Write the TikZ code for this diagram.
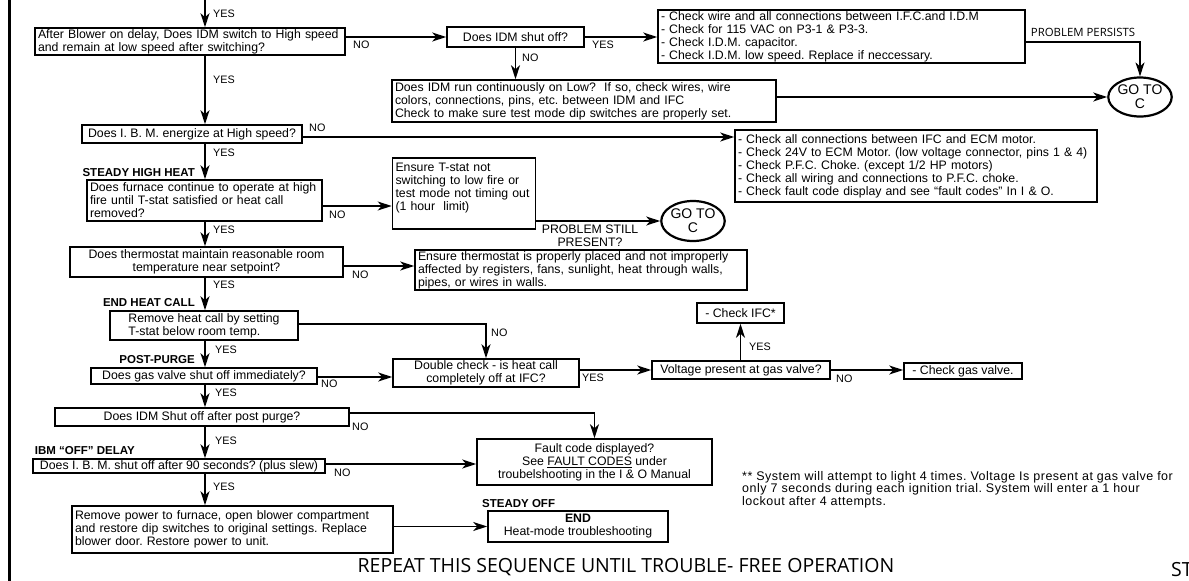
\documentclass[tikz,border=0pt]{standalone}
\usepackage{fontspec}
\setmainfont{Liberation Sans}
\newfontfamily\capsfont{Open Sans}
\newfontfamily\notefamily[LetterSpace=4]{Liberation Sans}
\usetikzlibrary{arrows.meta,shapes.geometric}
\frenchspacing
\newcommand\boxfont{\fontsize{12.3}{13}\selectfont}
\newcommand\tagfont{\fontsize{10.8}{12}\selectfont}
\newcommand\stagefont{\fontsize{11.5}{12}\selectfont\bfseries}
\newcommand\notefont{\notefamily\fontsize{12.5}{11.2}\selectfont}
\tikzset{
  qbox/.style={draw, line width=1.6pt, inner xsep=3pt, inner ysep=1pt, font=\boxfont, align=center},
  lbox/.style={qbox, align=left},
  tag/.style={font=\tagfont, inner sep=0pt, anchor=west},
  stage/.style={font=\stagefont, inner sep=0pt, anchor=base east},
  link/.style={line width=1.6pt},
  go/.style={link, -{Stealth[length=14pt,width=9pt,inset=4pt]}},
  goto/.style={draw, ellipse, line width=2.2pt, inner sep=0pt, font=\fontsize{14}{14}\selectfont, align=center}
}
\begin{document}
\begin{tikzpicture}[x=1pt,y=-1pt]
  \useasboundingbox (0,0) rectangle (1189,581);
  \draw[line width=3pt] (9,0) -- (9,581);
  \coordinate (trunk) at (205,0);
  \coordinate (entry) at (205,0);

  % main column
  \node[lbox, text width=304pt, minimum height=27pt] (q1) at (190,41.5)
    {After Blower on delay, Does IDM switch to High speed\\and remain at low speed after switching?};
  \node[qbox, minimum width=220pt, minimum height=18pt] (ibm) at (192,134)
    {Does I. B. M. energize at High speed?};
  \node[lbox, text width=229pt, minimum height=41pt] (furn) at (204.5,200.5)
    {Does furnace continue to operate at high\\fire until T-stat satisfied or heat call\\removed?};
  \node[qbox, minimum width=273pt, minimum height=30pt] (room) at (206.5,262)
    {Does thermostat maintain reasonable room\\temperature near setpoint?};
  \node[lbox, minimum width=188pt, minimum height=29pt] (heat) at (204,325.5)
    {Remove heat call by setting\\T-stat below room temp.};
  \node[qbox, minimum width=226pt, minimum height=16pt] (gasq) at (204,376)
    {Does gas valve shut off immediately?};
  \node[qbox, minimum width=294pt, minimum height=18pt] (purge) at (202,417)
    {Does IDM Shut off after post purge?};
  \node[qbox, minimum width=292pt, minimum height=14pt] (ibmoff) at (179,466)
    {Does I. B. M. shut off after 90 seconds? (plus slew)};
  \node[lbox, text width=315pt, minimum height=47pt] (power) at (232.5,529.5)
    {Remove power to furnace, open blower compartment\\and restore dip switches to original settings. Replace\\blower door. Restore power to unit.};

  % stage titles
  \node[stage] (s1) at (195,176) {STEADY HIGH HEAT};
  \node[stage] (s2) at (195,306) {END HEAT CALL};
  \node[stage] (s3) at (195,363) {POST-PURGE};
  \node[stage] (s4) at (135,454) {IBM “OFF” DELAY};
  \node[stage, anchor=base west] (s5) at (482,507) {STEADY OFF};

  % side branches
  \node[qbox, minimum width=137pt, minimum height=20pt] (idm) at (515.5,37) {Does IDM shut off?};
  \node[lbox, text width=361pt, minimum height=53pt] (chk1) at (841.5,36.5)
    {- Check wire and all connections between I.F.C.and I.D.M\\- Check for 115 VAC on P3-1 \& P3-3.\\- Check I.D.M. capacitor.\\- Check I.D.M. low speed. Replace if neccessary.};
  \node[lbox, text width=378pt, minimum height=42pt] (idmlow) at (584,101)
    {Does IDM run continuously on Low?~ If so, check wires, wire\\colors, connections, pins, etc. between IDM and IFC\\Check to make sure test mode dip switches are properly set.};
  \node[goto, minimum width=60pt, minimum height=39pt] (goC1) at (1140,97) {GO TO\\C};
  \node[lbox, text width=356pt, minimum height=72pt] (chk2) at (916,166)
    {- Check all connections between IFC and ECM motor.\\- Check 24V to ECM Motor. (low voltage connector, pins 1 \& 4)\\- Check P.F.C. Choke. (except 1/2 HP motors)\\- Check all wiring and connections to P.F.C. choke.\\- Check fault code display and see “fault codes” In I \& O.};
  \node[lbox, text width=137pt, minimum height=71pt] (tstat) at (464,193.5)
    {Ensure T-stat not\\switching to low fire or\\test mode not timing out\\(1 hour~~limit)\\\mbox{}};
  \node[goto, minimum width=57pt, minimum height=40pt] (goC2) at (693,221) {GO TO\\C};
  \node[lbox, text width=326pt, minimum height=36pt] (place) at (581,270)
    {Ensure thermostat is properly placed and not improperly\\affected by registers, fans, sunlight, heat through walls,\\pipes, or wires in walls.};
  \node[qbox, minimum width=186pt, minimum height=28pt] (dbl) at (486,373)
    {Double check - is heat call\\completely off at IFC?};
  \node[qbox, minimum width=178pt, minimum height=18pt] (volt) at (741,370) {Voltage present at gas valve?};
  \node[qbox, minimum width=87pt, minimum height=20pt] (ifc) at (740.5,313) {- Check IFC*};
  \node[qbox, minimum width=118pt, minimum height=16pt] (gasv) at (963,371) {- Check gas valve.};
  \node[qbox, minimum width=235pt, minimum height=46pt] (fault) at (594.5,462)
    {Fault code displayed?\\See \underline{FAULT CODES} under\\troubelshooting in the I \& O Manual};
  \node[qbox, minimum width=180pt, minimum height=31pt] (fin) at (578,526.5)
    {\textbf{END}\\Heat-mode troubleshooting};

  % main column arrows
  \draw[go] (entry) -- (q1.north -| entry);
  \draw[go] (q1.south -| trunk) -- (ibm.north -| trunk);
  \draw[go] (ibm.south -| trunk) -- (furn.north -| trunk);
  \draw[go] (furn.south -| trunk) -- (room.north -| trunk);
  \draw[go] (room.south -| trunk) -- (heat.north -| trunk);
  \draw[go] (heat.south -| trunk) -- (gasq.north -| trunk);
  \draw[go] (gasq.south -| trunk) -- (purge.north -| trunk);
  \draw[go] (purge.south -| trunk) -- (ibmoff.north -| trunk);
  \draw[go] (ibmoff.south -| trunk) -- (power.north -| trunk);
  \node[tag] (y0) at (213,14) {YES};
  \node[tag] (y1) at (213,80) {YES};
  \node[tag] (y2) at (213,153) {YES};
  \node[tag] (y3) at (213,230) {YES};
  \node[tag] (y4) at (213,285) {YES};
  \node[tag] (y5) at (215,350) {YES};
  \node[tag] (y6) at (215,393) {YES};
  \node[tag] (y7) at (215,441) {YES};
  \node[tag] (y8) at (213,487) {YES};

  % branch arrows
  \draw[go] (q1.east |- idm.west) -- (idm.west);
  \node[tag] (n1) at (353,45) {NO};
  \draw[go] (idm.east) -- (idm.east -| chk1.west);
  \node[tag] (y9) at (592,45) {YES};
  \draw[go] ([yshift=-5.5pt]chk1.east) -| (goC1.north);
  \node[font=\capsfont\fontsize{11.4}{12}\selectfont, inner sep=0pt] (pp) at (1083,32) {PROBLEM PERSISTS};
  \draw[go] (idm.south) -- (idmlow.north -| idm.south);
  \node[tag] (n2) at (522,58) {NO};
  \draw[go] (idmlow.east |- goC1.west) -- (goC1.west);
  \draw[go] (ibm.east |- 0,137) -- (chk2.west |- 0,137);
  \node[tag] (n3) at (309,128) {NO};
  \draw[go] (furn.east |- 0,206) -- (tstat.west |- 0,206);
  \node[tag] (n4) at (329,215) {NO};
  \draw[go] (tstat.east |- goC2.west) -- (goC2.west);
  \node[font=\boxfont, align=center, inner sep=0pt] (ps) at (590,236) {PROBLEM STILL\\PRESENT?};
  \draw[go] (room.east |- 0,266) -- (place.west |- 0,266);
  \node[tag] (n5) at (352,275) {NO};
  \draw[go] (heat.east |- 0,324) -| (dbl.north);
  \node[tag] (n6) at (491,333) {NO};
  \draw[go] (gasq.east |- 0,377) -- (dbl.west |- 0,377);
  \node[tag] (n7) at (321,384) {NO};
  \draw[go] (dbl.east |- volt.west) -- (volt.west);
  \node[tag] (y10) at (582,378) {YES};
  \draw[go] (ifc.south |- volt.north) -- (ifc.south);
  \node[tag] (y11) at (749,347) {YES};
  \draw[go] (volt.east) -- (volt.east -| gasv.west);
  \node[tag] (n8) at (836,379) {NO};
  \draw[go] (purge.east |- 0,413) -| (fault.north);
  \node[tag] (n9) at (352,427) {NO};
  \draw[go] (ibmoff.east |- 0,464) -- (fault.west |- 0,464);
  \node[tag] (n10) at (334,473) {NO};
  \draw[go] (power.east |- fin.west) -- (fin.west);

  % notes
  \node[font=\notefont, align=left, anchor=north west, inner sep=0pt] (note) at (742,471)
    {** System will attempt to light 4 times. Voltage Is present at gas valve for\\only 7 seconds during each ignition trial. System will enter a 1 hour\\lockout after 4 attempts.};
  \node[font=\capsfont\fontsize{19.5}{20}\selectfont, inner sep=0pt] (rep) at (626,567)
    {REPEAT THIS SEQUENCE UNTIL TROUBLE- FREE OPERATION};
  \node[font=\capsfont\fontsize{19.5}{20}\selectfont, inner sep=0pt, anchor=base west] (st) at (1171,576) {ST};
\end{tikzpicture}
\end{document}
